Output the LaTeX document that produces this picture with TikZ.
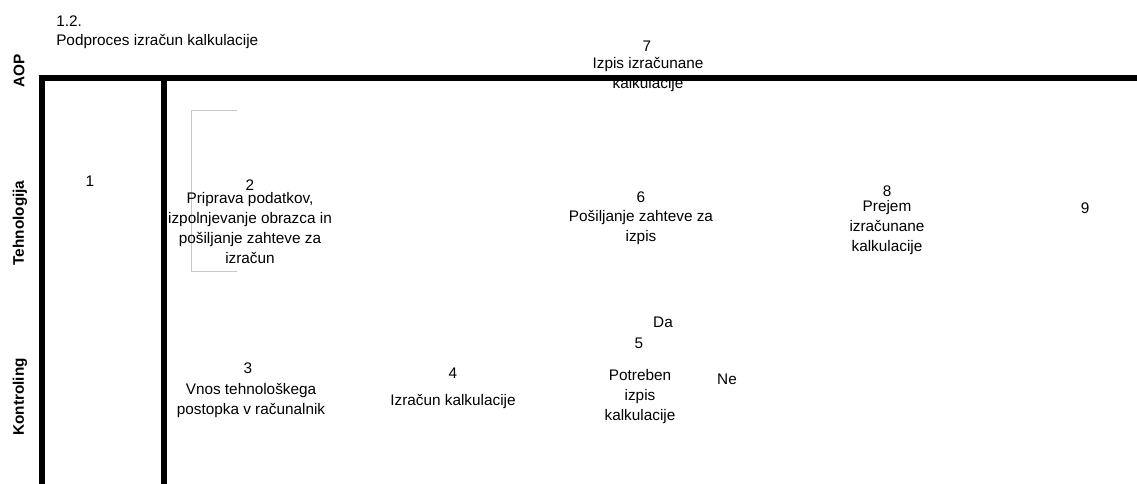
\documentclass[tikz,border=0pt]{standalone}
\usepackage{fontspec}
\setmainfont{Liberation Sans}
\begin{document}
\begin{tikzpicture}[x=0.75pt,y=-0.75pt]
	\tikzstyle{every node}=[inner sep=0pt,align=center,font=\fontsize{11.5}{15}\selectfont]
	\tikzset{lane/.style={line width=4.9pt,line join=miter,black}}
	\tikzset{lanename/.style={rotate=90,font=\fontsize{11.5}{15}\selectfont\bfseries}}
	\useasboundingbox (0,0) rectangle (1137,484);
	% lanes
	\draw[lane] (42,484) -- (42,78) -- (1137,78);
	\draw[lane] (164,78) -- (164,484);
	\draw[black!22,line width=0.75pt] (237,111) -- (191,111) -- (191,272) -- (237,272);
	% headings
	\node[anchor=base west] (procnum) at (56,27) {1.2.};
	\node[anchor=base west] (procname) at (56,46) {Podproces izračun kalkulacije};
	\node[lanename] (aop) at (19,71) {AOP};
	\node[lanename] (tehnologija) at (20,223) {Tehnologija};
	\node[lanename] (kontroling) at (20,397) {Kontroling};
	% steps
	\node (num1) at (90,181) {1};
	\node (num2) at (250,185) {2};
	\node (act2) at (250,228) {Priprava podatkov,\\izpolnjevanje obrazca in\\pošiljanje zahteve za\\izračun};
	\node (num3) at (248,368) {3};
	\node (act3) at (251,401) {Vnos tehnološkega\\postopka v računalnik};
	\node (num4) at (453,373) {4};
	\node (act4) at (453,402) {Izračun kalkulacije};
	\node (num5) at (639,343) {5};
	\node (act5) at (640,397) {Potreben\\izpis\\kalkulacije};
	\node (da) at (663,322) {Da};
	\node (ne) at (727,379) {Ne};
	\node (num6) at (641,197) {6};
	\node (act6) at (641,228) {Pošiljanje zahteve za\\izpis};
	\node (num7) at (647,46) {7};
	\node (act7) at (648,75) {Izpis izračunane\\kalkulacije};
	\node (num8) at (887,191) {8};
	\node (act8) at (887,228) {Prejem\\izračunane\\kalkulacije};
	\node (num9) at (1085,208) {9};
\end{tikzpicture}
\end{document}
